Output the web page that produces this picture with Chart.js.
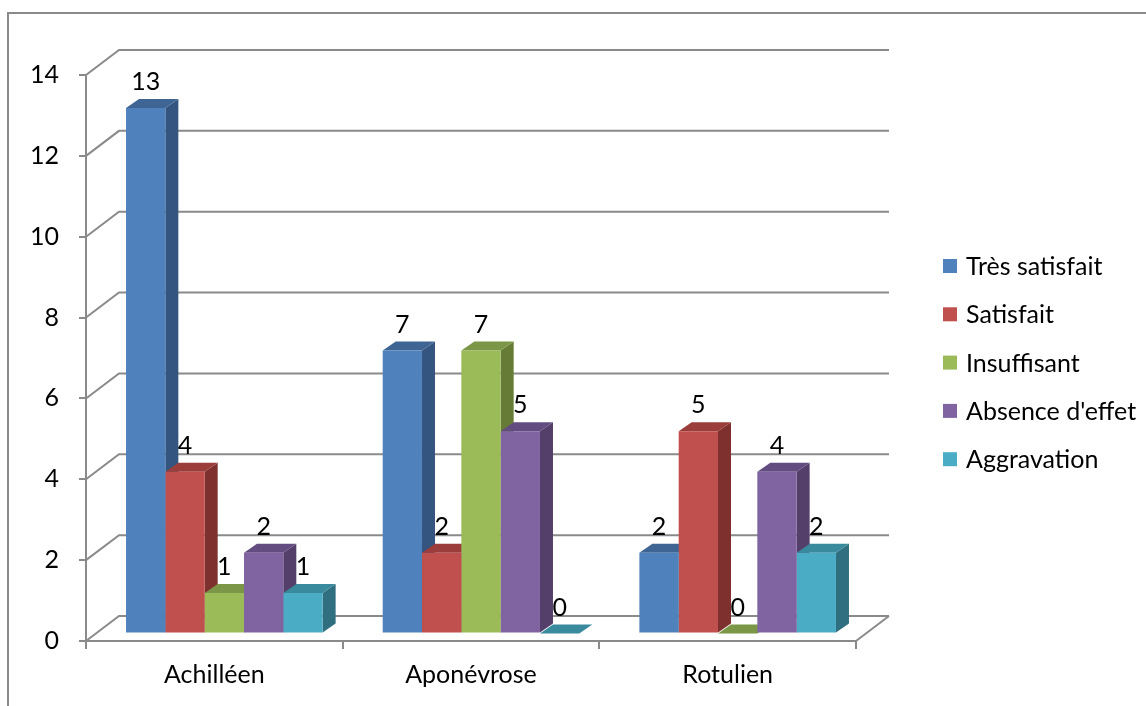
<!DOCTYPE html>
<html>
<head>
<meta charset="utf-8">
<script src="https://cdn.jsdelivr.net/npm/chart.js@4.4.1/dist/chart.umd.min.js"></script>
<style>
  html, body { margin: 0; padding: 0; background: #fff; overflow: hidden; }
  #wrap { position: relative; width: 1146px; height: 706px; }
  #frame { position: absolute; left: 7px; top: 12px; width: 1200px; height: 800px;
           border: 2px solid #8a8a8a; box-sizing: border-box; }
  #c { position: absolute; left: 0; top: 0; }
</style>
</head>
<body>
<div id="wrap">
  <div id="frame"></div>
  <canvas id="c" width="1146" height="706"></canvas>
</div>
<script>
// Categories and series
const categories = ['Achilléen', 'Aponévrose', 'Rotulien'];
const seriesNames = ['Très satisfait', 'Satisfait', 'Insuffisant', "Absence d'effet", 'Aggravation'];
const tresSatisfait = [13, 7, 2];
const satisfait     = [4, 2, 5];
const insuffisant   = [1, 7, 0];
const absenceEffet  = [2, 5, 4];
const aggravation   = [1, 0, 2];
const yTickValues   = [0, 2, 4, 6, 8, 10, 12, 14];

// Face colours: front, side, top
const frontColors = ['#4F81BD', '#C0504D', '#9BBB59', '#8064A2', '#4BACC6'];
const sideColors  = ['#34557F', '#7E302E', '#667C36', '#543F6A', '#2F6F80'];
const topColors   = ['#3E6594', '#9A3D3B', '#7A9646', '#634C80', '#3A8A9E'];

const FONT = { family: 'Lato', size: 25 };
const GRID = '#8a8a8a';

// Depth of the back wall and of the bars, and the bar-plane offset
const WALL_DX = 33, WALL_DY = -25;
const BAR_DX = 13, BAR_DY = -9;
const PLANE_DX = 10, PLANE_DY = -7.5;

const seriesValues = [tresSatisfait, satisfait, insuffisant, absenceEffet, aggravation];

const threeD = {
  id: 'threeD',
  beforeDatasetsDraw(chart) {
    const ctx = chart.ctx;
    const ys = chart.scales.y;
    const a = chart.chartArea;
    // back wall gridlines with their left diagonal
    ctx.save();
    ctx.strokeStyle = GRID;
    ctx.lineWidth = 2;
    ctx.beginPath();
    yTickValues.forEach(v => {
      const y = ys.getPixelForValue(v);
      ctx.moveTo(a.left, y);
      ctx.lineTo(a.left + WALL_DX, y + WALL_DY);
      ctx.lineTo(a.right + WALL_DX, y + WALL_DY);
    });
    // right edge of the floor
    ctx.moveTo(a.right, a.bottom);
    ctx.lineTo(a.right + WALL_DX, a.bottom + WALL_DY);
    ctx.stroke();
    ctx.restore();

    // bars are drawn in a plane set back from the axes
    ctx.save();
    ctx.translate(PLANE_DX, PLANE_DY);
    const bars = [];
    chart.data.datasets.forEach((ds, di) => {
      chart.getDatasetMeta(di).data.forEach(el => bars.push({ el, di }));
    });
    bars.sort((p, q) => p.el.x - q.el.x);
    bars.forEach(({ el, di }) => {
      const L = el.x - el.width / 2, R = el.x + el.width / 2;
      const T = el.y, B = el.base;
      // side face
      ctx.fillStyle = sideColors[di];
      ctx.beginPath();
      ctx.moveTo(R, T);
      ctx.lineTo(R + BAR_DX, T + BAR_DY);
      ctx.lineTo(R + BAR_DX, B + BAR_DY);
      ctx.lineTo(R, B);
      ctx.closePath();
      ctx.fill();
      // top face
      ctx.fillStyle = topColors[di];
      ctx.beginPath();
      ctx.moveTo(L, T);
      ctx.lineTo(R, T);
      ctx.lineTo(R + BAR_DX, T + BAR_DY);
      ctx.lineTo(L + BAR_DX, T + BAR_DY);
      ctx.closePath();
      ctx.fill();
    });
  },
  afterDatasetsDraw(chart) {
    const ctx = chart.ctx;
    // value labels above each bar
    ctx.fillStyle = '#000';
    ctx.font = `${FONT.size}px ${FONT.family}`;
    ctx.textAlign = 'center';
    ctx.textBaseline = 'middle';
    chart.data.datasets.forEach((ds, di) => {
      chart.getDatasetMeta(di).data.forEach((el, i) => {
        ctx.fillText(String(ds.data[i]), el.x, el.y - 26);
      });
    });
    ctx.restore();
  },
  afterDraw(chart) {
    const ctx = chart.ctx;
    ctx.save();
    ctx.font = `${FONT.size}px ${FONT.family}`;
    ctx.textAlign = 'left';
    ctx.textBaseline = 'middle';
    chart.data.datasets.forEach((ds, di) => {
      const cy = 266 + di * 48.3;
      ctx.fillStyle = ds.backgroundColor;
      ctx.fillRect(943, cy - 7, 14, 14);
      ctx.fillStyle = '#000';
      ctx.fillText(ds.label, 966, cy + 1);
    });
    ctx.restore();
  }
};

new Chart(document.getElementById('c'), {
  type: 'bar',
  data: {
    labels: categories,
    datasets: seriesNames.map((name, i) => ({
      label: name,
      data: seriesValues[i],
      backgroundColor: frontColors[i],
      borderWidth: 0,
      categoryPercentage: 0.766,
      barPercentage: 1.0
    }))
  },
  options: {
    responsive: false,
    animation: false,
    layout: { padding: { left: 0, top: 75, right: 290, bottom: 0 } },
    plugins: { legend: { display: false }, tooltip: { enabled: false } },
    scales: {
      x: {
        offset: true,
        grid: { display: true, drawOnChartArea: false, drawTicks: true, tickLength: 8,
                color: GRID, lineWidth: 2, offset: true },
        border: { display: true, color: GRID, width: 2 },
        ticks: { color: '#000', font: FONT, padding: 11 },
        afterFit(s) { s.height = 65; }
      },
      y: {
        min: 0, max: 14,
        grid: { drawOnChartArea: false, drawTicks: true, tickLength: 7, color: GRID, lineWidth: 2 },
        border: { display: true, color: GRID, width: 2 },
        ticks: { stepSize: 2, color: '#000', font: FONT, padding: 20 },
        afterFit(s) { s.width = 86; }
      }
    }
  },
  plugins: [threeD]
});
</script>
</body>
</html>
